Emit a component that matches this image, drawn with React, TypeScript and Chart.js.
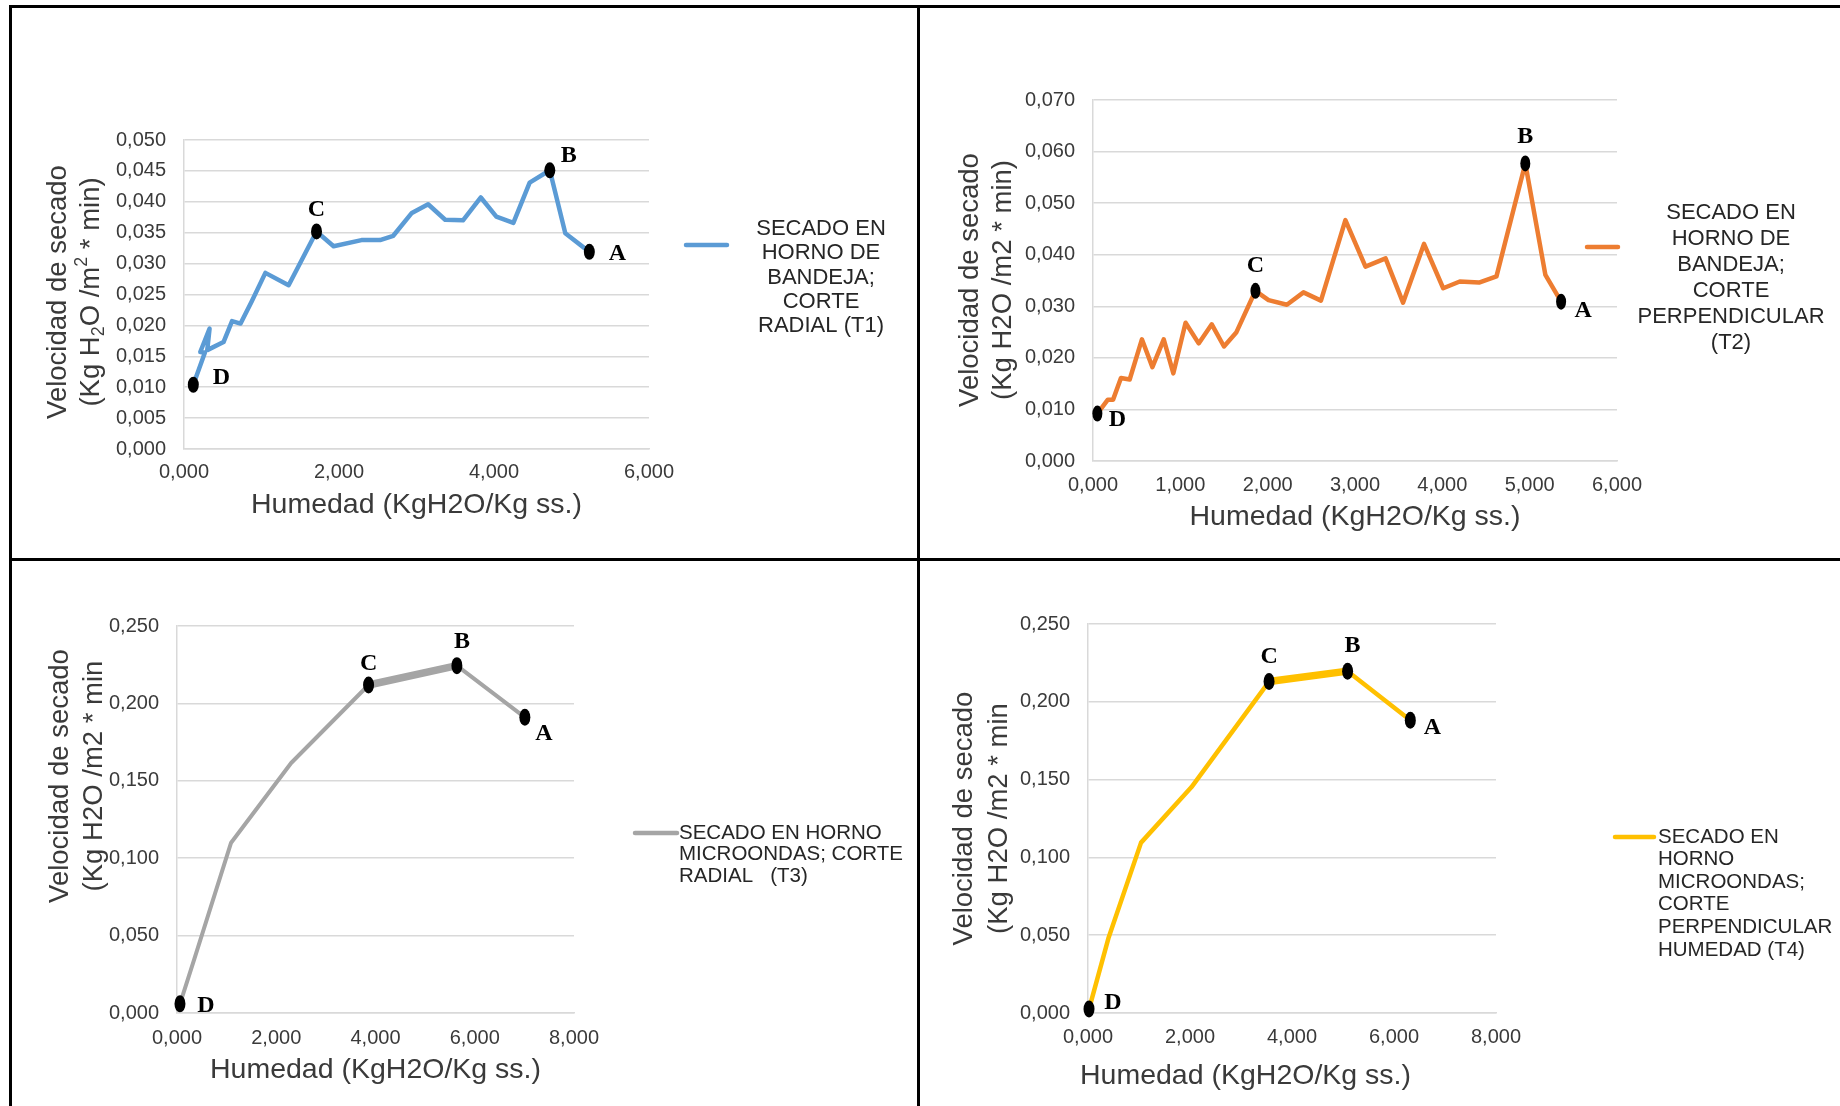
import React, { useEffect, useRef } from 'react';
import { Chart, registerables } from 'chart.js';

Chart.register(...registerables);

// ---------- DATA ----------
// T1: horno de bandeja, corte radial
const t1Humedad = [0.12, 0.27, 0.21, 0.33, 0.30, 0.51, 0.62, 0.73, 0.87, 1.05, 1.35, 1.71, 1.93, 2.29, 2.53, 2.70, 2.94, 3.15, 3.37, 3.60, 3.83, 4.03, 4.25, 4.46, 4.72, 4.92, 5.23];
const t1Velocidad = [0.0104, 0.0156, 0.0157, 0.0195, 0.0160, 0.0173, 0.0207, 0.0203, 0.0238, 0.0285, 0.0265, 0.0352, 0.0328, 0.0338, 0.0338, 0.0345, 0.0382, 0.0396, 0.0371, 0.0370, 0.0407, 0.0376, 0.0366, 0.0431, 0.0451, 0.0349, 0.0319];
const t1PointNames = ['D', 'C', 'B', 'A'];
const t1PointIndex = [0, 11, 24, 26];
const t1Legend = ['SECADO EN', 'HORNO DE', 'BANDEJA;', 'CORTE', 'RADIAL (T1)'];

// T2: horno de bandeja, corte perpendicular
const t2Humedad = [0.05, 0.17, 0.23, 0.32, 0.42, 0.56, 0.68, 0.81, 0.92, 1.06, 1.21, 1.36, 1.50, 1.64, 1.86, 2.01, 2.22, 2.41, 2.61, 2.89, 3.12, 3.35, 3.55, 3.79, 4.01, 4.20, 4.42, 4.62, 4.95, 5.18, 5.36];
const t2Velocidad = [0.0092, 0.0119, 0.0119, 0.0161, 0.0158, 0.0236, 0.0182, 0.0236, 0.0170, 0.0268, 0.0228, 0.0265, 0.0222, 0.0249, 0.0330, 0.0312, 0.0303, 0.0327, 0.0311, 0.0467, 0.0377, 0.0393, 0.0307, 0.0421, 0.0335, 0.0348, 0.0346, 0.0358, 0.0577, 0.0361, 0.0309];
const t2PointNames = ['D', 'C', 'B', 'A'];
const t2PointIndex = [0, 14, 28, 30];
const t2Legend = ['SECADO EN', 'HORNO DE', 'BANDEJA;', 'CORTE', 'PERPENDICULAR', '(T2)'];

// T3: horno microondas, corte radial
const t3Humedad = [0.06, 0.35, 1.09, 2.30, 3.86, 5.64, 7.01];
const t3Velocidad = [0.0059, 0.035, 0.110, 0.1615, 0.2119, 0.2244, 0.191];
const t3PointNames = ['D', 'C', 'B', 'A'];
const t3PointIndex = [0, 4, 5, 6];
const t3Legend = ['SECADO EN HORNO', 'MICROONDAS; CORTE', 'RADIAL   (T3)'];

// T4: horno microondas, corte perpendicular
const t4Humedad = [0.02, 0.40, 1.04, 2.03, 3.55, 5.09, 6.32];
const t4Velocidad = [0.0025, 0.048, 0.1095, 0.1452, 0.213, 0.2197, 0.1881];
const t4PointNames = ['D', 'C', 'B', 'A'];
const t4PointIndex = [0, 4, 5, 6];
const t4Legend = ['SECADO EN', 'HORNO', 'MICROONDAS;', 'CORTE', 'PERPENDICULAR', 'HUMEDAD (T4)'];

const yTitleLine1 = 'Velocidad de secado';
const t1YTitleLine2 = '(Kg H_2O /m^2 * min)';
const t2YTitleLine2 = '(Kg H2O /m2 * min)';
const t34YTitleLine2 = '(Kg H2O /m2 * min';
const xTitle = 'Humedad (KgH2O/Kg ss.)';

// ---------- STYLE / LAYOUT ----------
const SANS = '"Liberation Sans", Arial, sans-serif';
const SERIF = '"Liberation Serif", "Times New Roman", serif';
const TEXT = '#3a3a3a';
const GRID = '#d9d9d9';

type Rect = { left: number; top: number; width: number; height: number };
type Area = { left: number; top: number; right: number; bottom: number };
type PanelCfg = {
  box: Rect;
  area: Area;
  xs: number[];
  ys: number[];
  color: string;
  lineWidth: number;
  thickFrom: number;
  label: string[];
  names: string[];
  idx: number[];
  nameOffsets: number[][];
  yMax: number;
  yStep: number;
  xMax: number;
  xStep: number;
  xTickPad: number;
  yTitle2: string;
  yTitleX: [number, number];
  yTitleY: number;
  xTitlePos: [number, number];
  legend: { x1: number; x2: number; y: number; tx: number; ty: number; lh: number; size: number; align: 'center' | 'left' };
  dotR: [number, number];
};

const panels: PanelCfg[] = [
  {
    box: { left: 12, top: 8, width: 905, height: 550 },
    area: { left: 184, top: 140, right: 649, bottom: 449 },
    xs: t1Humedad, ys: t1Velocidad, color: '#5B9BD5', lineWidth: 4.5, thickFrom: -1,
    label: t1Legend, names: t1PointNames, idx: t1PointIndex,
    nameOffsets: [[28, -7], [0, -22], [19, -14], [28, 2]],
    yMax: 0.05, yStep: 0.005, xMax: 6, xStep: 2, xTickPad: 11,
    yTitle2: t1YTitleLine2, yTitleX: [58, 91], yTitleY: 292, xTitlePos: [416.5, 505.5],
    legend: { x1: 686, x2: 727, y: 245, tx: 821, ty: 229, lh: 24.3, size: 22, align: 'center' },
    dotR: [5.5, 8],
  },
  {
    box: { left: 920, top: 8, width: 920, height: 550 },
    area: { left: 1093, top: 100, right: 1617, bottom: 461 },
    xs: t2Humedad, ys: t2Velocidad, color: '#ED7D31', lineWidth: 4.5, thickFrom: -1,
    label: t2Legend, names: t2PointNames, idx: t2PointIndex,
    nameOffsets: [[20, 6], [0, -25], [0, -27], [22, 9]],
    yMax: 0.07, yStep: 0.01, xMax: 6, xStep: 1, xTickPad: 12,
    yTitle2: t2YTitleLine2, yTitleX: [970, 1003], yTitleY: 280, xTitlePos: [1355, 517.5],
    legend: { x1: 1587, x2: 1618, y: 247, tx: 1731, ty: 213.3, lh: 25.9, size: 22, align: 'center' },
    dotR: [5, 8],
  },
  {
    box: { left: 12, top: 561, width: 905, height: 545 },
    area: { left: 177, top: 626, right: 574, bottom: 1013 },
    xs: t3Humedad, ys: t3Velocidad, color: '#A5A5A5', lineWidth: 4, thickFrom: 4,
    label: t3Legend, names: t3PointNames, idx: t3PointIndex,
    nameOffsets: [[26, 2], [0, -21], [5, -24], [19, 16]],
    yMax: 0.25, yStep: 0.05, xMax: 8, xStep: 2, xTickPad: 13,
    yTitle2: t34YTitleLine2, yTitleX: [60, 94], yTitleY: 776, xTitlePos: [375.5, 1070],
    legend: { x1: 635, x2: 677, y: 833, tx: 679, ty: 833, lh: 21.8, size: 20.5, align: 'left' },
    dotR: [5.5, 8.5],
  },
  {
    box: { left: 920, top: 561, width: 920, height: 545 },
    area: { left: 1088, top: 624, right: 1496, bottom: 1013 },
    xs: t4Humedad, ys: t4Velocidad, color: '#FFC000', lineWidth: 4.5, thickFrom: 4,
    label: t4Legend, names: t4PointNames, idx: t4PointIndex,
    nameOffsets: [[24, -6], [0, -25], [5, -25], [22, 7]],
    yMax: 0.25, yStep: 0.05, xMax: 8, xStep: 2, xTickPad: 12,
    yTitle2: t34YTitleLine2, yTitleX: [964, 999], yTitleY: 818.5, xTitlePos: [1245.5, 1076.5],
    legend: { x1: 1615, x2: 1654, y: 837, tx: 1658, ty: 837, lh: 22.6, size: 20.5, align: 'left' },
    dotR: [5.5, 8.5],
  },
];

// ---------- helpers ----------
type Seg = { t: string; v: number };
function parseRich(s: string): Seg[] {
  const out: Seg[] = [];
  let buf = '';
  for (let i = 0; i < s.length; i++) {
    const c = s[i];
    if ((c === '_' || c === '^') && i + 1 < s.length) {
      if (buf) out.push({ t: buf, v: 0 });
      buf = '';
      out.push({ t: s[i + 1], v: c === '_' ? 1 : -1 });
      i++;
    } else buf += c;
  }
  if (buf) out.push({ t: buf, v: 0 });
  return out;
}

function drawRich(ctx: CanvasRenderingContext2D, s: string, cx: number, cy: number, size: number, rotate: boolean) {
  const segs = parseRich(s);
  ctx.save();
  ctx.translate(cx, cy);
  if (rotate) ctx.rotate(-Math.PI / 2);
  ctx.textBaseline = 'middle';
  ctx.textAlign = 'left';
  const small = size * 0.65;
  let w = 0;
  const widths = segs.map((sg) => {
    ctx.font = `${sg.v ? small : size}px ${SANS}`;
    const m = ctx.measureText(sg.t).width;
    w += m;
    return m;
  });
  let x = -w / 2;
  segs.forEach((sg, i) => {
    ctx.font = `${sg.v ? small : size}px ${SANS}`;
    const dy = sg.v === 1 ? size * 0.3 : sg.v === -1 ? -size * 0.32 : 0;
    ctx.fillText(sg.t, x, dy);
    x += widths[i];
  });
  ctx.restore();
}

const fmt = (v: number | string) => Number(v).toFixed(3).replace('.', ',');

function makeDecor(p: PanelCfg) {
  return {
    id: 'panelDecor',
    afterDraw(chart: any) {
      const ctx: CanvasRenderingContext2D = chart.ctx;
      const ox = p.box.left;
      const oy = p.box.top;
      ctx.save();
      // axis titles
      ctx.fillStyle = TEXT;
      drawRich(ctx, yTitleLine1, p.yTitleX[0] - ox, p.yTitleY - oy, 27.5, true);
      drawRich(ctx, p.yTitle2, p.yTitleX[1] - ox, p.yTitleY - oy, 27.5, true);
      drawRich(ctx, xTitle, p.xTitlePos[0] - ox, p.xTitlePos[1] - oy, 28.5, false);

      // legend
      const lg = p.legend;
      ctx.strokeStyle = p.color;
      ctx.lineWidth = 4.5;
      ctx.lineCap = 'round';
      ctx.beginPath();
      ctx.moveTo(lg.x1 - ox, lg.y - oy);
      ctx.lineTo(lg.x2 - ox, lg.y - oy);
      ctx.stroke();
      ctx.fillStyle = '#262626';
      ctx.font = `${lg.size}px ${SANS}`;
      ctx.textBaseline = 'middle';
      ctx.textAlign = lg.align;
      p.label.forEach((line, i) => {
        ctx.fillText(line, lg.tx - ox, lg.ty - oy + i * lg.lh);
      });

      // point markers and names
      const meta = chart.getDatasetMeta(0);
      ctx.fillStyle = '#000';
      ctx.font = `bold 24px ${SERIF}`;
      ctx.textAlign = 'center';
      ctx.textBaseline = 'middle';
      p.idx.forEach((di, i) => {
        const el = meta.data[di];
        if (!el) return;
        ctx.beginPath();
        ctx.ellipse(el.x, el.y, p.dotR[0], p.dotR[1], 0, 0, Math.PI * 2);
        ctx.fill();
        ctx.fillText(p.names[i], el.x + p.nameOffsets[i][0], el.y + p.nameOffsets[i][1]);
      });
      ctx.restore();
    },
  };
}

function buildConfig(p: PanelCfg): any {
  const yw = p.area.left - p.box.left;
  const xh = p.box.top + p.box.height - p.area.bottom;
  const padTop = p.area.top - p.box.top;
  const padRight = p.box.left + p.box.width - p.area.right;
  return {
    type: 'scatter',
    data: {
      datasets: [
        {
          label: p.label.join(' '),
          data: p.xs.map((x, i) => ({ x, y: p.ys[i] })),
          showLine: true,
          borderColor: p.color,
          backgroundColor: p.color,
          borderWidth: p.lineWidth,
          pointRadius: 0,
          pointHoverRadius: 0,
          tension: 0,
          borderJoinStyle: 'round',
          borderCapStyle: 'round',
          segment: {
            borderWidth: (c: any) => (c.p0DataIndex === p.thickFrom ? 7.5 : undefined),
          },
        },
      ],
    },
    options: {
      animation: false,
      responsive: false,
      devicePixelRatio: 1,
      events: [],
      layout: { padding: { left: 0, top: padTop, right: padRight, bottom: 0 } },
      plugins: { legend: { display: false }, tooltip: { enabled: false }, title: { display: false } },
      scales: {
        x: {
          type: 'linear',
          min: 0,
          max: p.xMax,
          afterFit: (s: any) => { s.height = xh; },
          ticks: { stepSize: p.xStep, padding: p.xTickPad, color: TEXT, font: { family: SANS, size: 20 }, maxRotation: 0, callback: fmt },
          grid: { display: false, drawTicks: false },
          border: { display: true, color: GRID, width: 1.5 },
        },
        y: {
          type: 'linear',
          min: 0,
          max: p.yMax,
          afterFit: (s: any) => { s.width = yw; },
          ticks: { stepSize: p.yStep, padding: 18, color: TEXT, font: { family: SANS, size: 20 }, callback: fmt },
          grid: { display: true, drawTicks: false, color: GRID, lineWidth: 1.5 },
          border: { display: true, color: GRID, width: 1.5 },
        },
      },
    },
    plugins: [makeDecor(p)],
  };
}

function Panel({ cfg }: { cfg: PanelCfg }) {
  const ref = useRef<HTMLCanvasElement>(null);
  useEffect(() => {
    const chart = new Chart(ref.current as HTMLCanvasElement, buildConfig(cfg));
    return () => chart.destroy();
  }, [cfg]);
  const b = cfg.box;
  return (
    <canvas
      ref={ref}
      width={b.width}
      height={b.height}
      style={{ position: 'absolute', left: b.left, top: b.top, width: b.width, height: b.height }}
    />
  );
}

const line = (left: number, top: number, width: number, height: number) => (
  <div style={{ position: 'absolute', left, top, width, height, background: '#000' }} />
);

export default function App() {
  return (
    <div style={{ position: 'absolute', left: 0, top: 0, width: 1840, height: 1106, background: '#fff', overflow: 'hidden' }}>
      {panels.map((p, i) => (
        <Panel key={i} cfg={p} />
      ))}
      {line(9, 5, 1831, 3)}
      {line(9, 5, 3, 1101)}
      {line(917, 5, 3, 1101)}
      {line(9, 558, 1831, 3)}
    </div>
  );
}
